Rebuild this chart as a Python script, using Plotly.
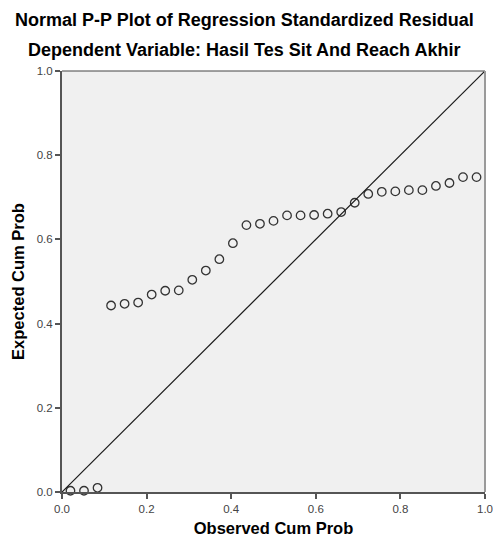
import plotly.graph_objects as go

n = 31
observed_cum_prob = [(i - 0.375) / (n + 0.25) for i in range(1, n + 1)]
expected_cum_prob = [
    0.003, 0.003, 0.010,
    0.443, 0.447, 0.450, 0.469, 0.478, 0.479, 0.504, 0.526, 0.553, 0.591,
    0.634, 0.637, 0.644, 0.657, 0.657, 0.658, 0.661, 0.665, 0.687, 0.708,
    0.713, 0.714, 0.717, 0.717, 0.727, 0.734, 0.748, 0.748,
]
tick_vals = [0.0, 0.2, 0.4, 0.6, 0.8, 1.0]
tick_text = ["0.0", "0.2", "0.4", "0.6", "0.8", "1.0"]

title_1 = "Normal P-P Plot of Regression Standardized Residual"
title_2 = "Dependent Variable: Hasil Tes Sit And Reach Akhir"
x_title = "Observed Cum Prob"
y_title = "Expected Cum Prob"

FONT = "Liberation Sans, Arial, sans-serif"

fig = go.Figure()
fig.add_trace(go.Scatter(
    x=observed_cum_prob, y=expected_cum_prob, mode="markers",
    marker=dict(symbol="circle-open", size=8.5, color="#333333", line=dict(width=1.3, color="#333333")),
    showlegend=False, hoverinfo="x+y", cliponaxis=False,
))
fig.add_shape(type="line", x0=0, y0=0, x1=1, y1=1, xref="x", yref="y",
              line=dict(color="#1a1a1a", width=1.2))
# top and right frame
fig.add_shape(type="line", x0=0, y0=1, x1=1, y1=1, xref="paper", yref="paper",
              line=dict(color="#444444", width=1))
fig.add_shape(type="line", x0=1, y0=0, x1=1, y1=1, xref="paper", yref="paper",
              line=dict(color="#9a9a9a", width=2))

axis_common = dict(
    range=[0, 1], tickvals=tick_vals, ticktext=tick_text, ticks="outside",
    ticklen=5, tickwidth=1.5, tickcolor="#555555", showgrid=False, zeroline=False,
    showline=True, linecolor="#555555", linewidth=2, automargin=False,
    ticklabeloverflow="allow",
    tickfont=dict(family=FONT, size=11.5, color="#444444"),
)
fig.update_xaxes(**axis_common,
                 title=dict(text="<b>" + x_title + "</b>", font=dict(family=FONT, size=16.5, color="#000000"), standoff=9))
fig.update_yaxes(**axis_common,
                 title=dict(text="<b>" + y_title + "</b>", font=dict(family=FONT, size=16.5, color="#000000"), standoff=8))

fig.add_annotation(text="<b>" + title_1 + "</b>", xref="paper", yref="paper",
                   x=(244 - 62) / 423, y=1 + (71 - 20) / 421, showarrow=False,
                   font=dict(family=FONT, size=18, color="#000000"), xanchor="center", yanchor="middle")
fig.add_annotation(text="<b>" + title_2 + "</b>", xref="paper", yref="paper",
                   x=(244 - 62) / 423, y=1 + (71 - 50) / 421, showarrow=False,
                   font=dict(family=FONT, size=18, color="#000000"), xanchor="center", yanchor="middle")

fig.update_layout(
    width=493, height=543,
    margin=dict(l=62, r=8, t=71, b=51),
    paper_bgcolor="#ffffff", plot_bgcolor="#f0f0f0",
    font=dict(family=FONT),
)
fig.write_html("out.html", config={"displayModeBar": False},
               post_script="document.body.style.margin='0';document.body.style.padding='0';")
